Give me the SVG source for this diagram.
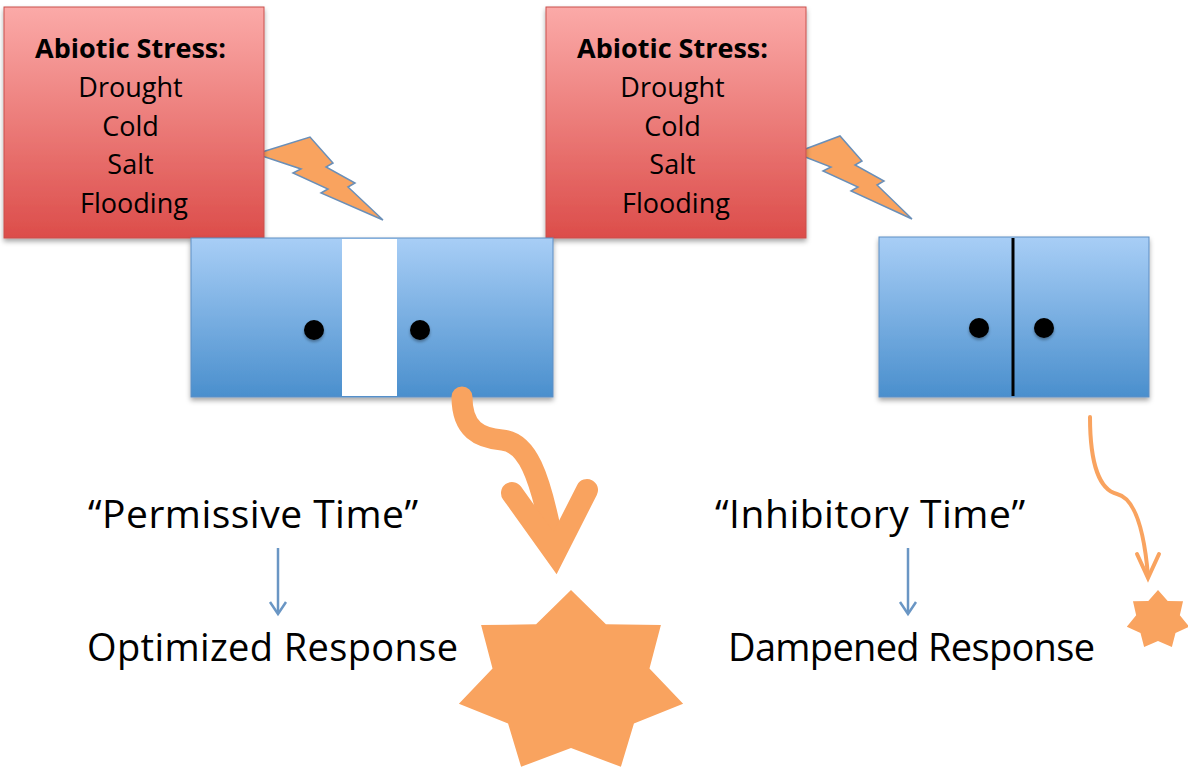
<svg xmlns="http://www.w3.org/2000/svg" width="1188" height="772" viewBox="0 0 1188 772">
<style>
  .lbl { font-family: "Open Sans", "Liberation Sans", sans-serif; fill: #000; }
  .stress { font-family: "Open Sans", "Liberation Sans", sans-serif; font-size: 27px; text-anchor: middle; fill: #000; }
  .stress .h { font-weight: bold; }
  .redbox { fill: url(#redGrad); stroke: #C9504C; stroke-width: 1; filter: url(#shadow); }
  .bluebox { fill: url(#blueGrad); stroke: #5E8FC4; stroke-width: 1; filter: url(#shadow); }
  .bolt { fill: #F9A35F; stroke: #6A8FB8; stroke-width: 1.5; stroke-linejoin: miter; }
  .dot { fill: #000; filter: url(#dotShadow); }
  .orangeArrow { fill: none; stroke: #F9A35F; stroke-linecap: round; }
  .blueArrow { fill: none; stroke: #6A96C4; stroke-width: 2.5; }
  .star { fill: #F9A35F; }
</style>
<defs>
  <linearGradient id="redGrad" x1="0" y1="0" x2="0" y2="1">
    <stop offset="0" stop-color="#FBAAA8"/>
    <stop offset="1" stop-color="#DC4D4A"/>
  </linearGradient>
  <linearGradient id="blueGrad" x1="0" y1="0" x2="0" y2="1">
    <stop offset="0" stop-color="#A8CEF6"/>
    <stop offset="1" stop-color="#4A8FCD"/>
  </linearGradient>
  <filter id="shadow" x="-10%" y="-10%" width="120%" height="125%">
    <feDropShadow dx="0" dy="3" stdDeviation="2.5" flood-color="#000" flood-opacity="0.35"/>
  </filter>
  <filter id="dotShadow" x="-50%" y="-50%" width="200%" height="200%">
    <feDropShadow dx="0" dy="2" stdDeviation="1.5" flood-color="#000" flood-opacity="0.35"/>
  </filter>
  <polygon id="star7" points="0,-1 0.3037,-0.6307 0.7818,-0.6235 0.6824,-0.1558 0.9749,0.2225 0.5473,0.4365 0.4339,0.9010 0,0.7 -0.4339,0.9010 -0.5473,0.4365 -0.9749,0.2225 -0.6824,-0.1558 -0.7818,-0.6235 -0.3037,-0.6307"/>
</defs>

<rect width="1188" height="772" fill="#FFFFFF"/>

<!-- lightning bolts -->
<g id="bolt-1">
  <polygon class="bolt" points="262,152 310,137 333,163 326,167 355,183 348,187 383,220 321,193 328,189 293,173 301,169 262,156"/>
</g>
<g id="bolt-2">
  <polygon class="bolt" points="800,151 840,136 862,161 855,165 884,181 877,185 912,219 851,191 858,187 823,171 831,167 800,155"/>
</g>

<!-- stress boxes -->
<g id="stress-box-1">
  <rect class="redbox" x="4" y="7" width="260" height="231"/>
  <text class="stress" x="134">
    <tspan class="h" x="134" y="58">Abiotic Stress:</tspan>
    <tspan x="134" y="97">Drought</tspan>
    <tspan x="134" y="136">Cold</tspan>
    <tspan x="134" y="174">Salt</tspan>
    <tspan x="134" y="213">Flooding</tspan>
  </text>
</g>
<g id="stress-box-2">
  <rect class="redbox" x="546" y="7" width="260" height="231"/>
  <text class="stress" x="676">
    <tspan class="h" x="676" y="58">Abiotic Stress:</tspan>
    <tspan x="676" y="97">Drought</tspan>
    <tspan x="676" y="136">Cold</tspan>
    <tspan x="676" y="174">Salt</tspan>
    <tspan x="676" y="213">Flooding</tspan>
  </text>
</g>

<!-- chromatin / gene boxes -->
<g id="gene-box-1">
  <rect class="bluebox" x="191" y="238" width="362" height="159"/>
  <rect x="342" y="239" width="55" height="157" fill="#FFFFFF"/>
  <circle class="dot" cx="314" cy="330" r="10"/>
  <circle class="dot" cx="420" cy="330" r="10"/>
</g>
<g id="gene-box-2">
  <rect class="bluebox" x="879" y="237" width="270" height="160"/>
  <line x1="1013" y1="238" x2="1013" y2="396" stroke="#000" stroke-width="3"/>
  <circle class="dot" cx="979" cy="328" r="10"/>
  <circle class="dot" cx="1044" cy="328" r="10"/>
</g>

<!-- connectors -->
<g id="connectors">
  <path class="orangeArrow" d="M 462 397 C 462 430, 480 438, 502 440 C 526 442, 540 470, 555 553" stroke-width="21"/>
  <path class="orangeArrow" d="M 512 493 L 555 553 L 587 490" stroke-width="22" stroke-linejoin="miter"/>
  <path class="orangeArrow" d="M 1090 417 C 1090 465, 1100 490, 1117 494 C 1138 499, 1145 540, 1148 576" stroke-width="4"/>
  <path class="orangeArrow" d="M 1137 554 L 1148 578 L 1159 554" stroke-width="4" stroke-linejoin="miter"/>
  <line class="blueArrow" x1="278" y1="548" x2="278" y2="613"/>
  <polyline class="blueArrow" points="270,602 278,614 286,602"/>
  <line class="blueArrow" x1="908" y1="548" x2="908" y2="613"/>
  <polyline class="blueArrow" points="900,602 908,614 916,602"/>
</g>

<!-- responses -->
<g id="response-star-large">
  <use href="#star7" class="star" transform="translate(571,683) scale(115,93)"/>
</g>
<g id="response-star-small">
  <use href="#star7" class="star" transform="translate(1158,620) scale(32,30)"/>
</g>

<!-- labels -->
<g id="label-permissive">
  <text class="lbl" x="88" y="528" font-size="39" textLength="330" lengthAdjust="spacing">“Permissive Time”</text>
</g>
<g id="label-optimized">
  <text class="lbl" x="87" y="661" font-size="38" textLength="371" lengthAdjust="spacing">Optimized Response</text>
</g>
<g id="label-inhibitory">
  <text class="lbl" x="715" y="528" font-size="39" textLength="310" lengthAdjust="spacing">“Inhibitory Time”</text>
</g>
<g id="label-dampened">
  <text class="lbl" x="728" y="661" font-size="38" textLength="367" lengthAdjust="spacing">Dampened Response</text>
</g>
</svg>
